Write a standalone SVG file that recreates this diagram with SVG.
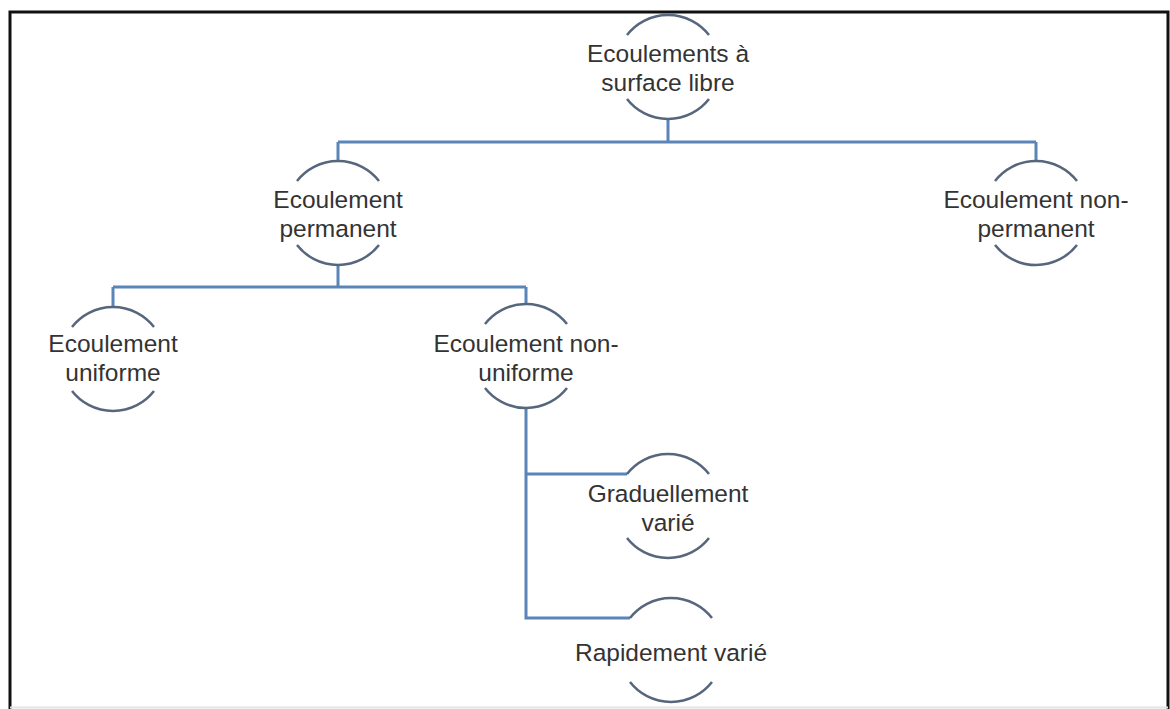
<svg xmlns="http://www.w3.org/2000/svg" width="1170" height="709" viewBox="0 0 1170 709">
<style>
.arc{fill:none;stroke:#56667c;stroke-width:2.5}
.con{fill:none;stroke:#5b85b9;stroke-width:3}
.lbl{font-family:"Liberation Sans",Arial,sans-serif;font-size:24.5px;fill:#333;text-anchor:middle}
.frame{fill:none;stroke:#111;stroke-width:3}
</style>
<defs>
<path id="arcs" d="M-41,-32 A52,52 0 0 1 41,-32 M-41,32 A52,52 0 0 0 41,32"/>
</defs>
<rect width="1170" height="709" fill="#fff"/>
<g id="frame">
<path class="frame" d="M10,709 V12 H1168 V709"/>
<line x1="10" y1="707.5" x2="1168" y2="707.5" stroke="#e4e4e4" stroke-width="2"/>
</g>
<g id="connectors">
<path class="con" d="M668,119 V142 M338,142 H1036 M338,142 V161 M1036,142 V161"/>
<path class="con" d="M338,265 V287 M113,287 H526 M113,287 V307 M526,287 V305"/>
<path class="con" d="M526,407 V618 H630 M526,474 H627"/>
</g>
<g id="n1" transform="translate(668,67)">
<use href="#arcs" class="arc"/>
<text class="lbl" x="0" y="-5">Ecoulements à</text>
<text class="lbl" x="0" y="24">surface libre</text>
</g>
<g id="n2" transform="translate(338,213)">
<use href="#arcs" class="arc"/>
<text class="lbl" x="0" y="-5">Ecoulement</text>
<text class="lbl" x="0" y="24">permanent</text>
</g>
<g id="n3" transform="translate(1036,213)">
<use href="#arcs" class="arc"/>
<text class="lbl" x="0" y="-5">Ecoulement non-</text>
<text class="lbl" x="0" y="24">permanent</text>
</g>
<g id="n4" transform="translate(113,359)">
<use href="#arcs" class="arc"/>
<text class="lbl" x="0" y="-7">Ecoulement</text>
<text class="lbl" x="0" y="22">uniforme</text>
</g>
<g id="n5" transform="translate(526,356)">
<use href="#arcs" class="arc"/>
<text class="lbl" x="0" y="-4">Ecoulement non-</text>
<text class="lbl" x="0" y="25">uniforme</text>
</g>
<g id="n6" transform="translate(668,506)">
<use href="#arcs" class="arc"/>
<text class="lbl" x="0" y="-4">Graduellement</text>
<text class="lbl" x="0" y="25">varié</text>
</g>
<g id="n7" transform="translate(671,650)">
<use href="#arcs" class="arc"/>
<text class="lbl" x="0" y="11">Rapidement varié</text>
</g>
</svg>
